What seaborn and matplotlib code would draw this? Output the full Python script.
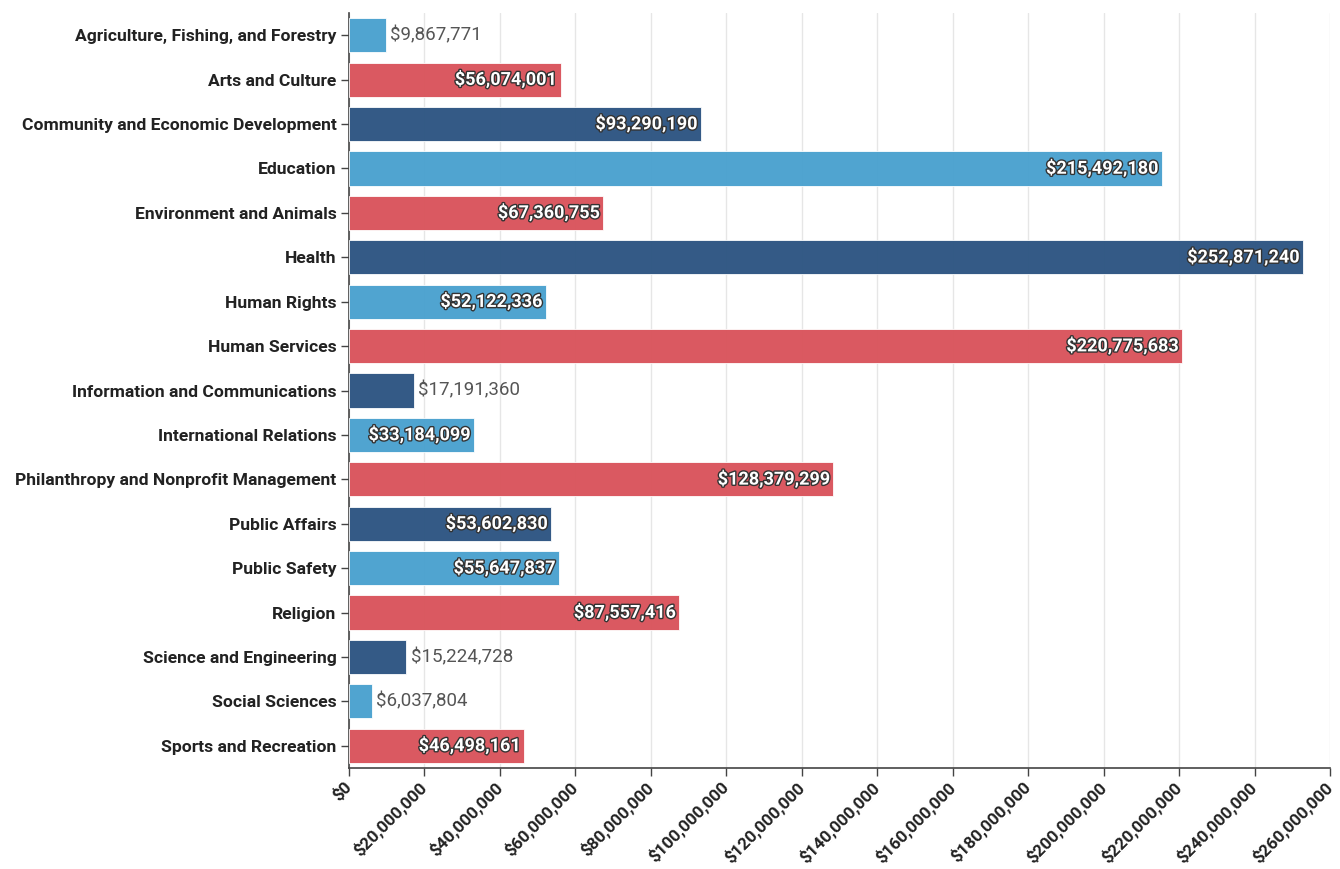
import matplotlib
matplotlib.use("Agg")
import matplotlib.pyplot as plt
import matplotlib.patheffects as pe
from matplotlib.ticker import FuncFormatter, MultipleLocator
import seaborn as sns
import pandas as pd

categories = [
    "Agriculture, Fishing, and Forestry",
    "Arts and Culture",
    "Community and Economic Development",
    "Education",
    "Environment and Animals",
    "Health",
    "Human Rights",
    "Human Services",
    "Information and Communications",
    "International Relations",
    "Philanthropy and Nonprofit Management",
    "Public Affairs",
    "Public Safety",
    "Religion",
    "Science and Engineering",
    "Social Sciences",
    "Sports and Recreation",
]
amounts = [
    9867771, 56074001, 93290190, 215492180, 67360755, 252871240, 52122336,
    220775683, 17191360, 33184099, 128379299, 53602830, 55647837, 87557416,
    15224728, 6037804, 46498161,
]
palette_cycle = ["#4aa1cf", "#d9545c", "#2d5582"]

df = pd.DataFrame({"category": categories, "amount": amounts})
colors = [palette_cycle[i % 3] for i in range(len(categories))]

sns.set_theme(style="white")
plt.rcParams["font.family"] = ["Roboto", "DejaVu Sans"]

fig = plt.figure(figsize=(13.4, 8.69), dpi=100)
ax = fig.add_axes([349 / 1340, 1 - 768 / 869, (1330 - 349) / 1340, (768 - 13) / 869])

sns.barplot(data=df, y="category", x="amount", hue="category", palette=colors,
            saturation=1, legend=False, orient="h", width=0.77, ax=ax, zorder=3)
for patch in ax.patches:
    patch.set_edgecolor("#ffffff")
    patch.set_linewidth(0.6)
    patch.set_alpha(0.97)

ax.set_xlim(0, 260_000_000)
ax.xaxis.set_major_locator(MultipleLocator(20_000_000))
ax.xaxis.set_major_formatter(FuncFormatter(lambda v, p: f"${v:,.0f}"))
ax.grid(axis="x", color="#e6e6e6", linewidth=1, zorder=0)
ax.set_axisbelow(True)
ax.set_xlabel("")
ax.set_ylabel("")

for s in ["top", "right"]:
    ax.spines[s].set_visible(False)
for s in ["left", "bottom"]:
    ax.spines[s].set_color("#444444")
    ax.spines[s].set_linewidth(1.2)

ax.tick_params(axis="y", which="major", left=True, length=6, width=1, color="#444444",
               labelsize=12.6, pad=3)
ax.tick_params(axis="x", which="major", bottom=True, length=6, width=1, color="#444444",
               labelsize=12.3, pad=6)
for lbl in ax.get_yticklabels():
    lbl.set_fontweight("bold")
    lbl.set_color("#222222")
for lbl in ax.get_xticklabels():
    lbl.set_fontweight("bold")
    lbl.set_color("#222222")
    lbl.set_rotation(45)
    lbl.set_ha("right")
    lbl.set_va("center")
    lbl.set_rotation_mode("anchor")

halo = [pe.withStroke(linewidth=2.0, foreground="#333333")]
for i, val in enumerate(amounts):
    text = f"${val:,.0f}"
    if val > 30_000_000:
        ax.text(val - 1_100_000, i, text, ha="right", va="center", color="white",
                fontsize=13, fontweight="bold", path_effects=halo, zorder=5)
    else:
        ax.text(val + 1_100_000, i, text, ha="left", va="center", color="#555555",
                fontsize=13.5, zorder=5)

fig.savefig("out.png", dpi=100)
